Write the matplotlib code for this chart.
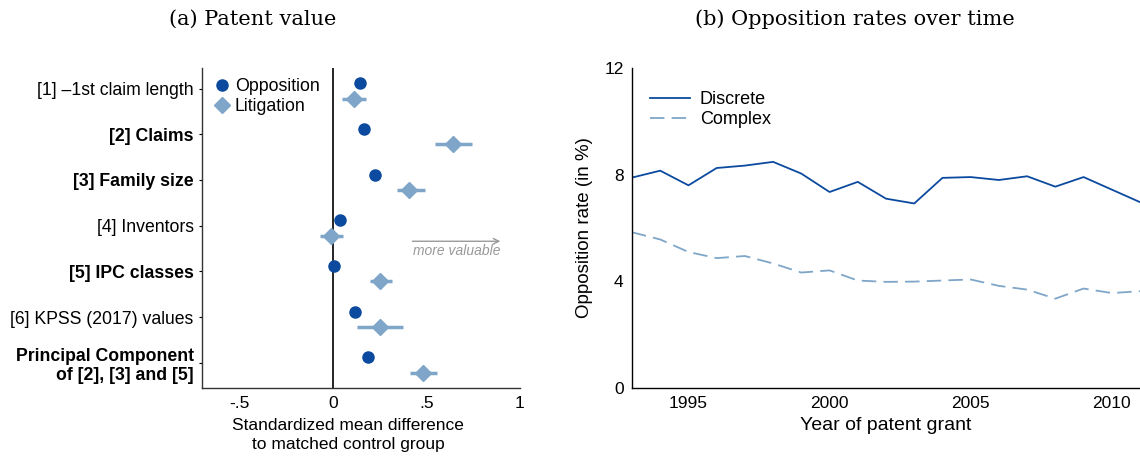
import numpy as np
import matplotlib
matplotlib.use('Agg')
import matplotlib.pyplot as plt
from matplotlib.lines import Line2D

plt.rcParams['font.family'] = ['Liberation Sans', 'DejaVu Sans']

# (a) patent value: standardized mean differences
labels = ['[1] \u20131st claim length', '[2] Claims', '[3] Family size', '[4] Inventors',
          '[5] IPC classes', '[6] KPSS (2017) values', 'Principal Component\nof [2], [3] and [5]']
bold = [False, True, True, False, True, False, True]
opp_mean = [0.145, 0.165, 0.225, 0.037, 0.003, 0.118, 0.19]
opp_lo = [0.13, 0.15, 0.21, 0.025, -0.01, 0.105, 0.175]
opp_hi = [0.16, 0.18, 0.24, 0.05, 0.015, 0.13, 0.205]
lit_mean = [0.11, 0.64, 0.405, -0.01, 0.25, 0.25, 0.48]
lit_lo = [0.05, 0.545, 0.34, -0.07, 0.2, 0.13, 0.41]
lit_hi = [0.175, 0.745, 0.49, 0.055, 0.315, 0.375, 0.555]

# (b) opposition rates over time
years = list(range(1993, 2012))
discrete = [7.89, 8.15, 7.6, 8.25, 8.34, 8.48, 8.04, 7.35, 7.73, 7.10, 6.92,
            7.88, 7.91, 7.80, 7.94, 7.55, 7.91, 7.44, 6.97]
complex_ = [5.84, 5.57, 5.10, 4.87, 4.95, 4.67, 4.33, 4.41, 4.03, 3.98, 3.99,
            4.03, 4.07, 3.83, 3.69, 3.35, 3.73, 3.56, 3.63]

dark = '#0B4A9E'
light = '#7FA6C8'

fig = plt.figure(figsize=(11.4, 4.57), dpi=100)
ax1 = fig.add_axes([202/1140, 1-388/457, (520-202)/1140, 320/457])
ax2 = fig.add_axes([632/1140, 1-388/457, (1140-632)/1140, 320/457])

rows = np.arange(len(labels))
off = 0.17
ax1.axvline(0, color='black', lw=1.2, zorder=1)
o_err = [np.array(opp_mean) - np.array(opp_lo), np.array(opp_hi) - np.array(opp_mean)]
l_err = [np.array(lit_mean) - np.array(lit_lo), np.array(lit_hi) - np.array(lit_mean)]
ax1.errorbar(opp_mean, rows - off, xerr=o_err, fmt='o', color=dark, ms=8,
             elinewidth=2.2, capsize=0, zorder=3)
ax1.errorbar(lit_mean, rows + off, xerr=l_err, fmt='D', color=light, ms=8,
             elinewidth=2.5, capsize=0, zorder=3)
ax1.set_ylim(len(labels) - 0.5, -0.5)
ax1.set_xlim(-0.7, 1.0)
ax1.set_yticks(rows - 0.05)
ax1.set_yticklabels(labels, fontsize=12.7)
for t, b in zip(ax1.get_yticklabels(), bold):
    if b:
        t.set_fontweight('bold')
    t.set_linespacing(1.15)
ax1.set_xticks([-0.5, 0, 0.5, 1])
ax1.set_xticklabels(['-.5', '0', '.5', '1'], fontsize=12.5)
ax1.tick_params(axis='y', length=2, width=0.8, pad=4)
ax1.tick_params(axis='x', length=0, pad=6)
ax1.set_xlabel('Standardized mean difference\nto matched control group', fontsize=12.5,
               linespacing=1.3)
ax1.xaxis.set_label_coords(0.46, -0.095, transform=ax1.transAxes)
ax1.xaxis.label.set_va('top')
for s in ['top', 'right']:
    ax1.spines[s].set_visible(False)
for s in ['left', 'bottom']:
    ax1.spines[s].set_linewidth(1.0)
    ax1.spines[s].set_color('#333333')
ax1.annotate('', xy=(0.91, 3.29), xytext=(0.41, 3.29),
             arrowprops=dict(arrowstyle='->', color='#999999', lw=1.0))
ax1.text(0.66, 3.5, 'more valuable', color='#999999', fontsize=10, style='italic',
         ha='center', va='center')
handles = [Line2D([], [], marker='o', ls='none', color=dark, ms=8, label='Opposition'),
           Line2D([], [], marker='D', ls='none', color=light, ms=8, label='Litigation')]
ax1.legend(handles=handles, loc='upper left', frameon=False, fontsize=12.8,
           handletextpad=0.1, borderaxespad=0.15, handlelength=1.2, labelspacing=0.2)

ax2.plot(years, discrete, color=dark, lw=1.3, label='Discrete')
ax2.plot(years, complex_, color=light, lw=1.3, dashes=(8, 4), label='Complex')
ax2.set_xlim(1993, 2011)
ax2.set_ylim(0, 12)
ax2.set_yticks([0, 4, 8, 12])
ax2.set_xticks([1995, 2000, 2005, 2010])
ax2.tick_params(length=0, labelsize=12.5, pad=6)
ax2.set_ylabel('Opposition rate (in %)', fontsize=13.5, labelpad=8)
ax2.set_xlabel('Year of patent grant', fontsize=14, labelpad=4)
for s in ['top', 'right']:
    ax2.spines[s].set_visible(False)
for s in ['left', 'bottom']:
    ax2.spines[s].set_linewidth(1.0)
ax2.legend(loc='upper left', frameon=False, fontsize=13, handlelength=2.2,
           handletextpad=0.55, borderaxespad=0.6, labelspacing=0.2,
           bbox_to_anchor=(0.0, 0.985))

fig.text(253/1140, 1-19/457, '(a) Patent value', family='DejaVu Serif', fontsize=15,
         ha='center', va='center')
fig.text(855/1140, 1-19/457, '(b) Opposition rates over time', family='DejaVu Serif',
         fontsize=15, ha='center', va='center')

fig.savefig('out.png', dpi=100)
